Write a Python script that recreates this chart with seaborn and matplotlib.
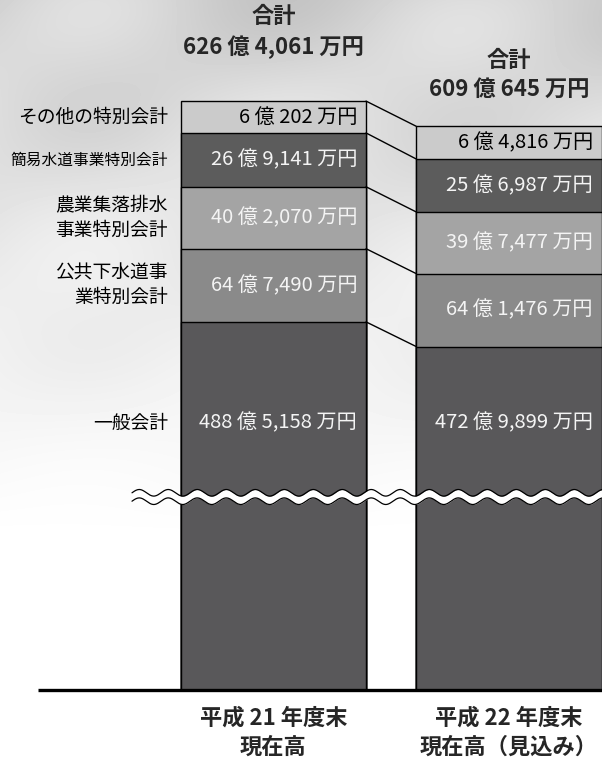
import numpy as np
import pandas as pd
import matplotlib
matplotlib.use('Agg')
import matplotlib.pyplot as plt
import seaborn as sns

# data (amounts in 万円)
periods = ['平成 21 年度末\n現在高', '平成 22 年度末\n現在高（見込み）']
accounts = ['一般会計', '公共下水道事業特別会計', '農業集落排水事業特別会計',
            '簡易水道事業特別会計', 'その他の特別会計']
account_labels = ['一般会計', '公共下水道事\n業特別会計', '農業集落排水\n事業特別会計',
                  '簡易水道事業特別会計', 'その他の特別会計']
h21_values = [4885158, 647490, 402070, 269141, 60202]
h22_values = [4729899, 641476, 397477, 256987, 64816]
totals = [6264061, 6090645]

colors = ['#59585a', '#8a8a8a', '#a4a4a4', '#5c5c5c', '#cbcbcb']
text_colors = ['#f4f4f4', '#f4f4f4', '#f4f4f4', '#f4f4f4', 'black']

BAR_W = 0.787


def fmt_oku(v):
    return f'{v // 10000} 億 {v % 10000:,} 万円'


def display_height(account, v):
    """Schematic heights: special accounts compressed, general account broken."""
    oku = v / 10000
    if account == '一般会計':
        return 1.59 * (oku - 257)
    return 17 * oku ** 0.35


# pixel helpers for layout (axes spans the figure width, baseline at y=690px)
def px_x(px):
    return (px - 273.3) / 235.7


def px_y(py):
    return 690 - py


rows = []
for period, vals in zip(periods, [h21_values, h22_values]):
    for acc, v in zip(accounts, vals):
        rows.append({'period': period, 'account': acc, 'value': v,
                     'h': display_height(acc, v)})
df = pd.DataFrame(rows)
df['cum'] = df.groupby('period')['h'].cumsum()

sns.set_theme(style='white')
plt.rcParams['font.family'] = ['Noto Sans CJK JP', 'DejaVu Sans']

fig = plt.figure(figsize=(6.02, 7.58), dpi=100)

# soft grey photo-like backdrop
bg_ax = fig.add_axes([0, 0, 1, 1])
yy, xx = np.mgrid[0:758, 0:602]
fade = np.clip(yy / 540, 0, 1) ** 0.9
streak = 0.035 * np.sin((xx * 0.6 + yy) / 38.0) + 0.02 * np.sin((xx - yy * 1.4) / 55.0)
bg = 0.82 + 0.18 * fade + streak * (1 - fade)
bg = np.clip(bg, 0, 1)
bg_ax.imshow(bg, cmap='gray', vmin=0, vmax=1, aspect='auto')
bg_ax.axis('off')

ax = fig.add_axes([0, 68 / 758, 1, 690 / 758])
ax.patch.set_alpha(0)

# stacked bars: draw cumulative heights from top layer down
for acc, col in reversed(list(zip(accounts, colors))):
    sub = df[df['account'] == acc]
    sns.barplot(data=sub, x='period', y='cum', order=periods, color=col,
                saturation=1, width=BAR_W, edgecolor='black', linewidth=1,
                errorbar=None, ax=ax)

ax.set_xlim(px_x(0), px_x(602))
ax.set_ylim(0, 690)
ax.axis('off')

# connecting lines between the bars
c1 = df[df['period'] == periods[0]]['cum'].values
c2 = df[df['period'] == periods[1]]['cum'].values
for a, b in zip(c1, c2):
    ax.plot([BAR_W / 2, 1 - BAR_W / 2], [a, b], color='black', lw=1)

# value labels inside segments
for i, period in enumerate(periods):
    sub = df[df['period'] == period].reset_index(drop=True)
    for j, r in sub.iterrows():
        y = px_y(423) if j == 0 else r['cum'] - r['h'] / 2
        ax.text(i + BAR_W / 2 - 0.038, y, fmt_oku(r['value']), ha='right',
                va='center', fontsize=14.5, color=text_colors[j])

# account names on the left
sub = df[df['period'] == periods[0]].reset_index(drop=True)
for j, r in sub.iterrows():
    y = px_y(423) if j == 0 else r['cum'] - r['h'] / 2
    size = 11.3 if account_labels[j] == '簡易水道事業特別会計' else 13.5
    ax.text(px_x(168), y, account_labels[j], ha='right', va='center',
            fontsize=size, linespacing=1.25, color='black')

# totals
title_y = [32, 75]
for i, t in enumerate(totals):
    ax.text(i, px_y(title_y[i]), '合計\n' + fmt_oku(t), ha='center', va='center',
            fontsize=16, fontweight='bold', linespacing=1.35, clip_on=False)

# period labels
for i, p in enumerate(periods):
    ax.text(i, px_y(733), p, ha='center', va='center', fontsize=16,
            fontweight='bold', linespacing=1.35, clip_on=False)

# baseline
ax.plot([px_x(38), px_x(602)], [0, 0], color='black', lw=2.4, clip_on=False,
        solid_capstyle='butt')

# wavy break line
wx = np.arange(132, 603, 0.5)
wy = px_y(497) + 3.3 * np.sin(2 * np.pi * (wx - 132) / 29.0)
ax.fill_between(px_x(wx), wy - 4.2, wy + 4.2, color='white', zorder=5, lw=0)
ax.plot(px_x(wx), wy + 4.2, color='black', lw=0.9, zorder=6)
ax.plot(px_x(wx), wy - 4.2, color='black', lw=0.9, zorder=6)

fig.savefig('out.png', dpi=100)
